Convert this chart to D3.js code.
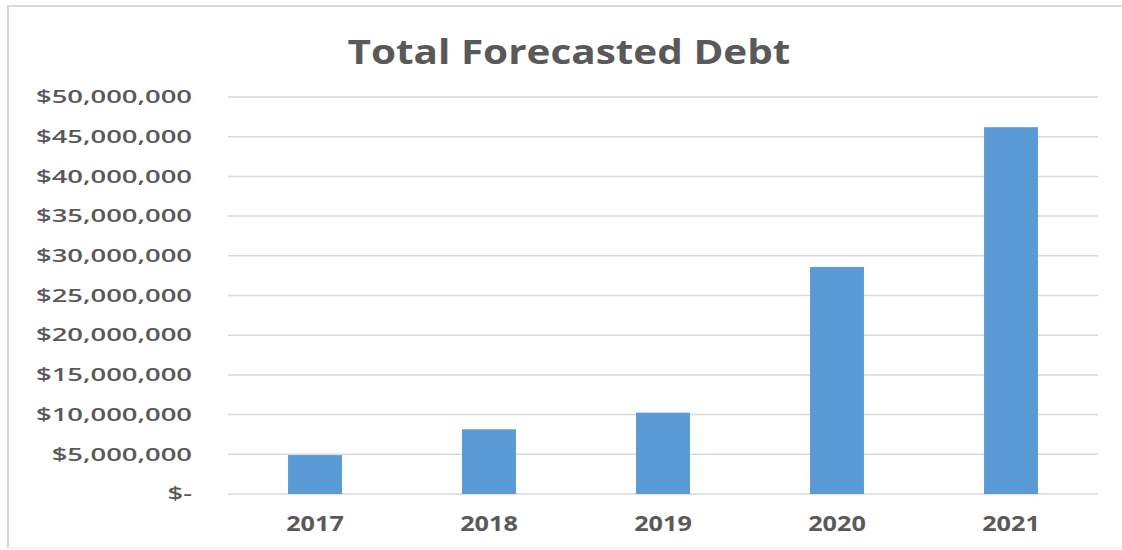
<!DOCTYPE html>
<html>
<head>
<meta charset="utf-8">
<script src="https://cdn.jsdelivr.net/npm/d3@7"></script>
<style>
    body { margin: 0; background: #fff; }
    .debt-axis text { fill: #595959; font-family: 'Open Sans', sans-serif; }
    .debt-axis path, .debt-axis line { display: none; }
    .debt-grid { stroke: #d9d9d9; stroke-width: 1.5; }
    .debt-bar { fill: #5b9bd5; }
</style>
</head>
<body>
<div id="chart"></div>
<script>
const years = ['2017', '2018', '2019', '2020', '2021']
const debt = [4900000, 8150000, 10250000, 28600000, 46200000]
const yTicks = [0, 5000000, 10000000, 15000000, 20000000, 25000000, 30000000, 35000000, 40000000, 45000000, 50000000]

const width = 1122
const height = 550
const layout = { left: 228, right: 24, top: 97, bottom: 56 }
const innerW = width - layout.left - layout.right
const innerH = height - layout.top - layout.bottom

// the source image is stretched sideways, so text gets widened to match
function stretch(sel, factor) {
    sel.each(function () {
        const w = this.getComputedTextLength()
        d3.select(this).attr('textLength', w * factor).attr('lengthAdjust', 'spacingAndGlyphs')
    })
}

const svg = d3.select('#chart').append('svg')
    .attr('width', width)
    .attr('height', height)

// outer frame
svg.append('path')
    .attr('d', `M 8 ${height - 2} V 6 H ${width}`)
    .attr('fill', 'none')
    .attr('stroke', '#d9d9d9')
    .attr('stroke-width', 2)
svg.append('path')
    .attr('d', `M 8 ${height - 2} H ${width}`)
    .attr('fill', 'none')
    .attr('stroke', '#efefef')
    .attr('stroke-width', 1.5)

const title = svg.append('text')
    .attr('x', 569)
    .attr('y', 64)
    .attr('text-anchor', 'middle')
    .style('font-family', "'Open Sans', sans-serif")
    .style('font-weight', 700)
    .style('font-size', '34px')
    .style('fill', '#595959')
    .text('Total Forecasted Debt')
stretch(title, 1.19)

const g = svg.append('g')
    .attr('transform', `translate(${layout.left},${layout.top})`)

const xScale = d3.scaleBand()
    .domain(years)
    .range([0, innerW])
    .paddingInner(0.69)
    .paddingOuter(0.345)
const yScale = d3.scaleLinear()
    .domain([0, 50000000])
    .range([innerH, 0])

g.selectAll('.debt-grid')
    .data(yTicks)
    .enter()
    .append('path')
    .attr('class', 'debt-grid')
    .attr('d', t => `M 0 ${yScale(t)} H ${innerW}`)

g.selectAll('.debt-bar')
    .data(debt)
    .enter()
    .append('rect')
    .attr('class', 'debt-bar')
    .attr('x', (d, i) => xScale(years[i]))
    .attr('y', d => yScale(d))
    .attr('width', xScale.bandwidth())
    .attr('height', d => innerH - yScale(d))

const moneyFmt = d => d === 0 ? '$-' : '$' + d3.format(',')(d)

const yAxisEl = g.append('g')
    .attr('class', 'debt-axis')
    .attr('transform', 'translate(-36,0)')
    .call(d3.axisLeft(yScale).tickValues(yTicks).tickFormat(moneyFmt).tickSize(0).tickPadding(0))
const yLabels = yAxisEl.selectAll('text').style('font-size', '18px').style('font-weight', 600)
const widest = d3.max(yLabels.nodes(), n => n.getComputedTextLength())
stretch(yLabels, 156 / widest)

const xAxisEl = g.append('g')
    .attr('class', 'debt-axis')
    .attr('transform', `translate(0,${innerH})`)
    .call(d3.axisBottom(xScale).tickSize(0).tickPadding(22))
xAxisEl.selectAll('text').style('font-size', '21px').style('font-weight', 700)
stretch(xAxisEl.selectAll('text'), 1.2)
</script>
</body>
</html>
